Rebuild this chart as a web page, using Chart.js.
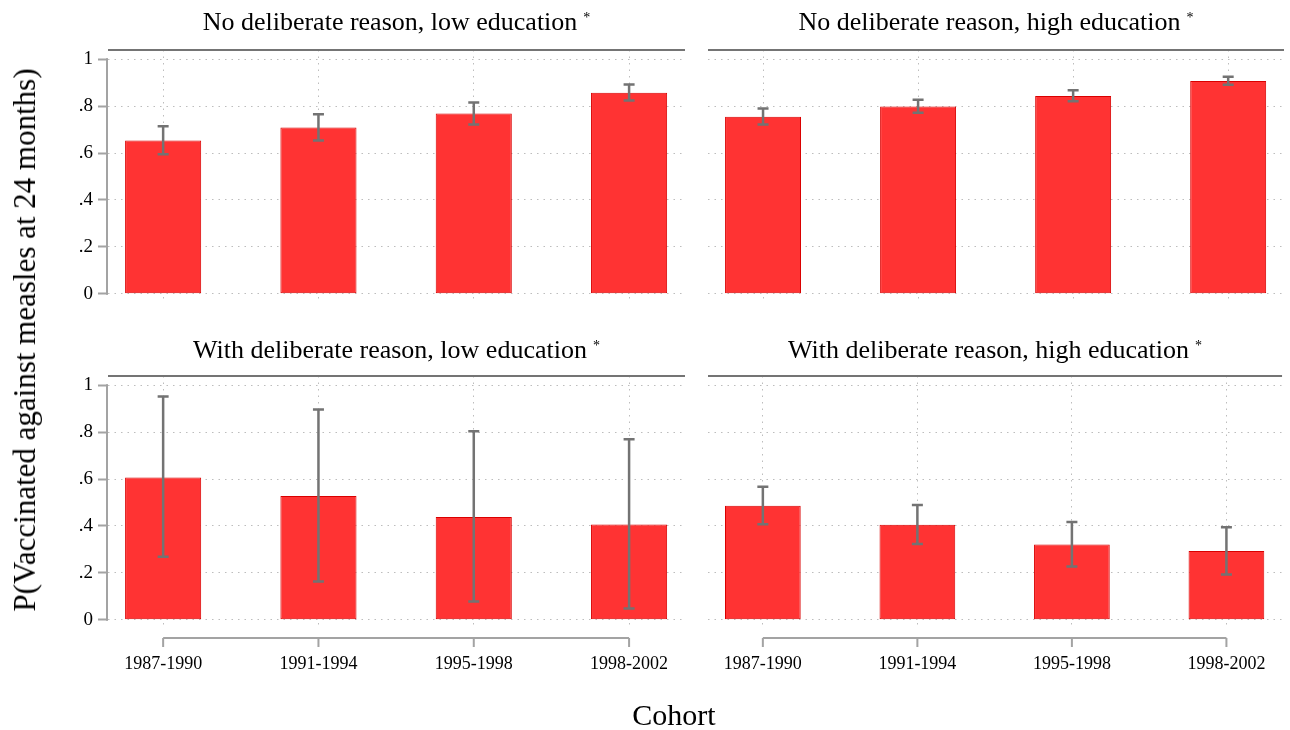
<!DOCTYPE html>
<html>
<head>
<meta charset="utf-8">
<script src="https://cdn.jsdelivr.net/npm/chart.js@4.4.0/dist/chart.umd.min.js"></script>
<style>
  body { margin: 0; background: #fff; width: 1290px; height: 730px; position: relative; overflow: hidden;
         font-family: "Liberation Serif", "Times New Roman", serif; color: #000; }
  canvas { position: absolute; }
  #yTitle { position: absolute; left: 25px; top: 340px; transform: translate(-50%, -50%) rotate(-90deg);
            white-space: nowrap; font-size: 31px; }
  #xTitle { position: absolute; left: 674px; top: 715px; transform: translate(-50%, -50%);
            white-space: nowrap; font-size: 30px; }
</style>
</head>
<body>
<canvas id="tl" width="695" height="320" style="left:0;top:0"></canvas>
<canvas id="tr" width="595" height="320" style="left:695px;top:0"></canvas>
<canvas id="bl" width="695" height="410" style="left:0;top:320px"></canvas>
<canvas id="br" width="595" height="410" style="left:695px;top:320px"></canvas>
<div id="yTitle">P(Vaccinated against measles at 24 months)</div>
<div id="xTitle">Cohort</div>
<script>
// données
const cohorts = ['1987-1990', '1991-1994', '1995-1998', '1998-2002'];
const yTicks = [0, 0.2, 0.4, 0.6, 0.8, 1];
const yTickLabels = ['0', '.2', '.4', '.6', '.8', '1'];

const panelTitles = [
    'No deliberate reason, low education',
    'No deliberate reason, high education',
    'With deliberate reason, low education',
    'With deliberate reason, high education'
];

const noReasonLow = [0.654, 0.709, 0.769, 0.858];
const noReasonLowLo = [0.595, 0.654, 0.722, 0.824];
const noReasonLowHi = [0.714, 0.766, 0.816, 0.893];

const noReasonHigh = [0.755, 0.799, 0.844, 0.908];
const noReasonHighLo = [0.722, 0.772, 0.821, 0.892];
const noReasonHighHi = [0.790, 0.828, 0.868, 0.926];

const withReasonLow = [0.607, 0.528, 0.438, 0.406];
const withReasonLowLo = [0.268, 0.163, 0.077, 0.047];
const withReasonLowHi = [0.953, 0.897, 0.804, 0.770];

const withReasonHigh = [0.486, 0.405, 0.321, 0.293];
const withReasonHighLo = [0.407, 0.323, 0.227, 0.193];
const withReasonHighHi = [0.567, 0.489, 0.417, 0.394];

const FONT = "'Liberation Serif', 'Times New Roman', serif";

// Plugin : titre, ligne sous le titre, axes style Stata, barres d'erreur
function decor(title, lo, hi, showY, showX, titleBaseline) {
    return {
        id: 'decor',
        afterDatasetsDraw(chart) {
            const { ctx } = chart;
            const xs = chart.scales.x, ys = chart.scales.y;
            ctx.save();
            ctx.strokeStyle = '#737373';
            ctx.lineWidth = 2.5;
            lo.forEach((v, i) => {
                const x = xs.getPixelForValue(i);
                const y1 = ys.getPixelForValue(v);
                const y2 = ys.getPixelForValue(hi[i]);
                ctx.beginPath();
                ctx.moveTo(x, y1); ctx.lineTo(x, y2);
                ctx.moveTo(x - 5.5, y1); ctx.lineTo(x + 5.5, y1);
                ctx.moveTo(x - 5.5, y2); ctx.lineTo(x + 5.5, y2);
                ctx.stroke();
            });
            ctx.restore();
        },
        afterDraw(chart) {
            const { ctx, chartArea: a } = chart;
            const xs = chart.scales.x, ys = chart.scales.y;
            ctx.save();

            // ligne sous le titre
            ctx.strokeStyle = '#747474';
            ctx.lineWidth = 2;
            ctx.beginPath();
            ctx.moveTo(a.left, a.top); ctx.lineTo(a.right, a.top);
            ctx.stroke();

            ctx.strokeStyle = '#a3a3a3';
            ctx.lineWidth = 2;
            if (showY) {
                ctx.beginPath();
                ctx.moveTo(a.left - 1, ys.getPixelForValue(yTicks[0]) + 1);
                ctx.lineTo(a.left - 1, ys.getPixelForValue(yTicks[yTicks.length - 1]) - 1);
                ctx.stroke();
            }
            if (showX) {
                const yb = a.bottom + 9;
                const first = xs.getPixelForValue(0), last = xs.getPixelForValue(cohorts.length - 1);
                ctx.beginPath();
                ctx.moveTo(first, yb); ctx.lineTo(last, yb);
                cohorts.forEach((c, i) => {
                    const x = xs.getPixelForValue(i);
                    ctx.moveTo(x, yb); ctx.lineTo(x, yb + 9);
                });
                ctx.stroke();
            }

            // titre du panneau
            const cx = (a.left + a.right) / 2;
            ctx.fillStyle = '#000';
            ctx.textBaseline = 'alphabetic';
            ctx.font = '26px ' + FONT;
            const w = ctx.measureText(title).width;
            ctx.font = '14px ' + FONT;
            const wa = ctx.measureText('*').width;
            const start = cx - (w + 6 + wa) / 2;
            ctx.textAlign = 'left';
            ctx.font = '26px ' + FONT;
            ctx.fillText(title, start, titleBaseline);
            ctx.font = '14px ' + FONT;
            ctx.fillText('*', start + w + 6, titleBaseline - 8);
            ctx.restore();
        }
    };
}

function makePanel(id, title, values, lo, hi, opt) {
    const gridColor = '#bdbdbd';
    new Chart(document.getElementById(id), {
        type: 'bar',
        data: {
            datasets: [{
                data: values.map((v, i) => ({ x: i, y: v })),
                backgroundColor: '#ff3333',
                borderColor: '#d90000',
                borderWidth: 1,
                borderSkipped: false,
                categoryPercentage: 1,
                barPercentage: 0.49
            }]
        },
        options: {
            responsive: false,
            animation: false,
            layout: { padding: { top: opt.top, left: 0, right: opt.right, bottom: 0 } },
            plugins: { legend: { display: false }, tooltip: { enabled: false }, title: { display: false } },
            scales: {
                x: {
                    type: 'linear',
                    offset: false,
                    min: -0.355,
                    max: 3.36,
                    afterBuildTicks: s => { s.ticks = cohorts.map((c, i) => ({ value: i })); },
                    afterFit: s => { s.height = opt.xHeight; },
                    grid: { color: gridColor, lineWidth: 1, drawTicks: false, offset: false },
                    border: { display: false, dash: [1.5, 5] },
                    ticks: {
                        display: opt.showX,
                        padding: 24,
                        maxRotation: 0,
                        autoSkip: false,
                        color: '#000',
                        font: { family: FONT, size: 18 },
                        callback: v => cohorts[v]
                    }
                },
                y: {
                    min: -0.04,
                    max: 1.04,
                    afterBuildTicks: s => { s.ticks = yTicks.map(v => ({ value: v })); },
                    afterFit: s => { s.width = opt.yWidth; },
                    grid: {
                        color: gridColor, lineWidth: 1,
                        drawTicks: opt.showY, tickLength: 10, tickColor: '#a3a3a3', tickWidth: 2
                    },
                    border: { display: false, dash: [1.5, 5] },
                    ticks: {
                        display: opt.showY,
                        padding: 5,
                        color: '#000',
                        font: { family: FONT, size: 19 },
                        callback: (v, i) => yTickLabels[i]
                    }
                }
            }
        },
        plugins: [decor(title, lo, hi, opt.showY, opt.showX, opt.titleBaseline)]
    });
}

makePanel('tl', panelTitles[0], noReasonLow, noReasonLowLo, noReasonLowHi,
    { top: 50, right: 10, yWidth: 108, xHeight: 17, showY: true, showX: false, titleBaseline: 30 });
makePanel('tr', panelTitles[1], noReasonHigh, noReasonHighLo, noReasonHighHi,
    { top: 50, right: 6, yWidth: 13, xHeight: 17, showY: false, showX: false, titleBaseline: 30 });
makePanel('bl', panelTitles[2], withReasonLow, withReasonLowLo, withReasonLowHi,
    { top: 56, right: 10, yWidth: 108, xHeight: 101, showY: true, showX: true, titleBaseline: 38 });
makePanel('br', panelTitles[3], withReasonHigh, withReasonHighLo, withReasonHighHi,
    { top: 56, right: 6, yWidth: 13, xHeight: 101, showY: false, showX: true, titleBaseline: 38 });
</script>
</body>
</html>
